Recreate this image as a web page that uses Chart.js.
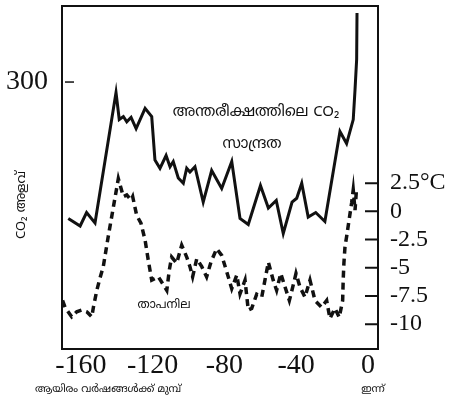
<!DOCTYPE html>
<html><head><meta charset="utf-8">
<script src="https://cdn.jsdelivr.net/npm/chart.js@4/dist/chart.umd.min.js"></script>
<style>html,body{margin:0;padding:0;background:#fff}#wrap{width:452px;height:410px}</style>
</head><body><div id="wrap"><canvas id="c" width="452" height="410"></canvas></div>
<script>
// thousand years before present
const co2Years = [-167.0,-160.4,-156.8,-152.1,-140.4,-138.6,-136.3,-134.4,-132.0,-129.2,
  -124.2,-120.5,-118.7,-115.9,-112.5,-110.3,-108.5,-105.7,-102.9,-101.0,
  -99.2,-96.4,-91.8,-87.1,-81.5,-75.9,-71.3,-66.7,-59.9,-55.5,
  -51.1,-47.2,-42.3,-39.7,-36.9,-33.3,-29.1,-24.0,-15.6,-11.9,
  -8.2,-7.2,-6.3,-6.1];
// CO2 ppm
const co2Values = [209,204,213,206,293,275,277,273.5,276.5,269,
  282.5,277,248,242.5,251,243.5,247,236,232.5,242.5,
  240,243.5,220,241,229,247,209,205,231,216,
  221,199,220,222.5,232.5,210,213,207,267,259,
  275,295,315,346];
const tempYears = [-170.2,-168.8,-165.1,-162.3,-159.5,-156.7,-153.9,-153.0,-151.1,-149.3,
  -147.5,-144.7,-139.1,-136.3,-134.4,-132.0,-131.1,-128.9,-126.5,-124.2,
  -122.4,-120.5,-116.8,-112.1,-110.7,-109.4,-106.6,-103.8,-101.0,-99.2,
  -97.7,-95.4,-92.6,-89.9,-87.5,-84.3,-81.5,-78.7,-75.9,-73.1,
  -71.3,-68.5,-66.7,-64.8,-62.0,-59.2,-57.4,-55.5,-52.8,-50.9,
  -48.6,-46.2,-43.8,-41.9,-40.1,-37.9,-35.1,-32.3,-29.5,-25.8,
  -23.0,-21.2,-18.4,-16.0,-14.1,-13.8,-13.4,-12.8,-11.9,-9.1,
  -8.2,-7.2,-6.3];
// temperature difference °C
const tempValues = [-7.9,-8.5,-9.35,-8.9,-8.75,-8.9,-9.35,-8.5,-7.0,-5.9,
  -4.9,-2.2,2.9,1.3,1.45,1.0,1.3,-0.35,-1.05,-2.55,
  -4.35,-6.1,-5.8,-7.0,-5.2,-4.05,-4.6,-3.0,-4.05,-4.9,
  -5.8,-4.2,-4.9,-5.8,-4.5,-3.3,-3.9,-5.35,-6.85,-5.65,
  -7.3,-6.1,-8.75,-8.6,-7.35,-7.6,-6.1,-4.5,-6.1,-7.0,
  -5.5,-6.7,-7.9,-6.7,-5.5,-6.7,-7.6,-6.1,-7.9,-8.5,
  -7.9,-9.5,-8.6,-9.4,-7.9,-6.1,-4.6,-3.15,-2.25,0.75,
  1.9,0.1,2.15];

const xTicks = [-160,-120,-80,-40,0];
const xTickLabels = ['-160','-120','-80','-40','0'];
const co2Ticks = [300];
const co2TickLabels = ['300'];
const tempTicks = [2.5,0,-2.5,-5,-7.5,-10];
const tempTickLabels = ['2.5°C','0','-2.5','-5','-7.5','-10'];

const co2Label1 = 'അന്തരീക്ഷത്തിലെ CO₂';
const co2Label2 = 'സാന്ദ്രത';
const tempLabel = 'താപനില';
const yTitle = 'CO₂ അളവ്';
const xTitleLeft = 'ആയിരം വർഷങ്ങൾക്ക് മുമ്പ്';
const xTitleRight = 'ഇന്ന്';

const ML = "'Noto Sans Malayalam','Noto Sans','DejaVu Sans',sans-serif";
const SERIF = "'Liberation Serif','DejaVu Serif',serif";

function setTicks(vals){ return function(scale){ scale.ticks = vals.map(v=>({value:v})); }; }

const decor = {
  id:'decor',
  afterDraw(chart){
    const {ctx, chartArea:a, scales} = chart;
    ctx.save();
    ctx.strokeStyle = '#111';
    ctx.lineWidth = 2;
    ctx.strokeRect(a.left, a.top, a.right-a.left, a.bottom-a.top);
    ctx.beginPath();
    tempTicks.forEach(v=>{ const y = scales.y2.getPixelForValue(v); ctx.moveTo(a.right-13,y); ctx.lineTo(a.right,y); });
    ctx.stroke();
    ctx.lineWidth = 1.5;
    ctx.beginPath();
    co2Ticks.forEach(v=>{ const y = scales.y.getPixelForValue(v); ctx.moveTo(a.left+3,y); ctx.lineTo(a.left+12,y); });
    ctx.stroke();
    ctx.fillStyle = '#111';
    ctx.textAlign = 'center';
    ctx.textBaseline = 'middle';
    ctx.font = '15px ' + ML;
    ctx.fillText(co2Label1, 256, 113);
    ctx.fillText(co2Label2, 252, 145);
    ctx.font = '12px ' + ML;
    ctx.fillText(tempLabel, 164, 306);
    ctx.font = '10.5px ' + ML;
    ctx.textAlign = 'left';
    ctx.fillText(xTitleLeft, 35, 390);
    ctx.textAlign = 'center';
    ctx.fillText(xTitleRight, 373, 390);
    ctx.save();
    ctx.translate(22, 205);
    ctx.rotate(-Math.PI/2);
    ctx.font = '13px ' + ML;
    ctx.fillText(yTitle, 0, 0);
    ctx.restore();
    ctx.restore();
  }
};

new Chart(document.getElementById('c'), {
  type: 'line',
  data: {
    datasets: [
      { label:'CO2', data: co2Years.map((x,i)=>({x, y:co2Values[i]})), yAxisID:'y',
        borderColor:'#111', borderWidth:3, pointRadius:0, tension:0, fill:false },
      { label:'Temp', data: tempYears.map((x,i)=>({x, y:tempValues[i]})), yAxisID:'y2',
        borderColor:'#111', borderWidth:3.5, borderDash:[7,5], pointRadius:0, tension:0, fill:false }
    ]
  },
  options: {
    responsive:false, animation:false, devicePixelRatio:1,
    layout:{ padding:{ top:6, left:0, right:0, bottom:0 } },
    plugins:{ legend:{display:false}, tooltip:{enabled:false} },
    scales:{
      x:{ type:'linear', min:-170.5, max:5.6,
        afterBuildTicks: setTicks(xTicks),
        afterFit(s){ s.height = 61; s.paddingLeft = 0; s.paddingRight = 0; },
        grid:{display:false, drawTicks:false}, border:{display:false},
        ticks:{ padding:0, color:'#111', font:{family:SERIF, size:28},
          callback:(v)=>{ const i = xTicks.indexOf(v); return i>=0 ? xTickLabels[i] : ''; } } },
      y:{ type:'linear', position:'left', min:122, max:350.7,
        afterBuildTicks: setTicks(co2Ticks),
        afterFit(s){ s.width = 62; s.paddingTop = 0; s.paddingBottom = 0; },
        grid:{display:false, drawTicks:false}, border:{display:false},
        ticks:{ padding:14, color:'#111', font:{family:SERIF, size:28},
          callback:(v)=>{ const i = co2Ticks.indexOf(v); return i>=0 ? co2TickLabels[i] : ''; } } },
      y2:{ type:'linear', position:'right', min:-12.2, max:18.2,
        afterBuildTicks: setTicks(tempTicks),
        afterFit(s){ s.width = 74; s.paddingTop = 0; s.paddingBottom = 0; },
        grid:{display:false, drawTicks:false}, border:{display:false},
        ticks:{ padding:12, color:'#111', font:{family:SERIF, size:24},
          callback:(v)=>{ const i = tempTicks.indexOf(v); return i>=0 ? tempTickLabels[i] : ''; } } }
    }
  },
  plugins:[decor]
});
</script></body></html>
